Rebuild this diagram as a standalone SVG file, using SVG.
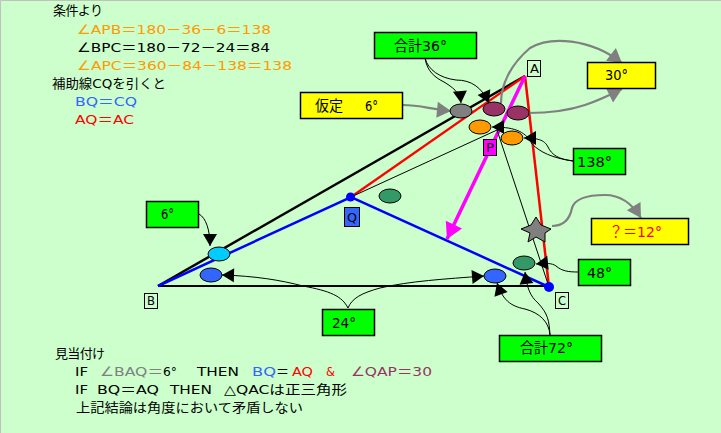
<svg xmlns="http://www.w3.org/2000/svg" width="721" height="433" viewBox="0 0 721 433">
<style>
text{font-family:"DejaVu Sans","Noto Sans CJK JP",sans-serif;font-size:13px;fill:#000}
.big{font-size:14.500px}
.o{fill:#FF9900}.b{fill:#3366FF}.r{fill:#FF0000}.g{fill:#808080}.p{fill:#993366}
.box{stroke:#000;stroke-width:1.5}
.lbl{fill:#CCFFCC;stroke:#000;stroke-width:1}
.el{stroke:#000;stroke-width:1}
.thin{fill:none;stroke:#000;stroke-width:1}
.gray{fill:none;stroke:#808080;stroke-width:2.2}
.y{fill:#FFFF00}.gn{fill:#00FF00}
</style>
<defs>
<marker id="ak" markerUnits="userSpaceOnUse" markerWidth="16" markerHeight="16" refX="12" refY="7" overflow="visible" orient="auto"><path d="M0 0L12 7L0 14Z" fill="#000"/></marker>
<marker id="ag" markerUnits="userSpaceOnUse" markerWidth="18" markerHeight="18" refX="14" refY="8" overflow="visible" orient="auto"><path d="M0 0L14 8L0 16Z" fill="#808080"/></marker>
<marker id="am" markerUnits="userSpaceOnUse" markerWidth="22" markerHeight="22" refX="16" refY="9" overflow="visible" orient="auto"><path d="M0 0L16 9L0 18Z" fill="#FF00FF"/></marker>
</defs>
<rect width="721" height="433" fill="#CCFFCC"/>
<path d="M0.5 433V0.5H721" fill="none" stroke="#C0C0C0"/>

<g id="connectors">
<path d="M158 286L525 76" fill="none" stroke="#000" stroke-width="2.5"/>
<path d="M158 286H549" fill="none" stroke="#000" stroke-width="2"/>
<path d="M351 197L525 76" fill="none" stroke="#FF0000" stroke-width="2.3"/>
<path d="M525 76L549 287" fill="none" stroke="#FF0000" stroke-width="2.5"/>
<path d="M158 286L351 197L549 287" fill="none" stroke="#0000FF" stroke-width="2.5"/>
<path d="M525 76L447 239" fill="none" stroke="#FF00FF" stroke-width="3.500" marker-end="url(#am)"/>
<path class="thin" d="M351 197L497 130L549 287"/>
<path class="thin" d="M425 58C427 72 436 78 444 82C452 87 460 92 461 103" marker-end="url(#ak)"/>
<path class="thin" d="M425 58C428 70 440 78 456 80C472 80 482 88 489 103" marker-end="url(#ak)"/>
<path class="thin" d="M199 214C206 218 210 230 210 246" marker-end="url(#ak)"/>
<path class="thin" d="M348 308C342 296 330 291 303 286C280 280 255 276 222 275" marker-end="url(#ak)"/>
<path class="thin" d="M348 308C352 298 362 293 380 288C410 281 445 279 484 276" marker-end="url(#ak)"/>
<path class="thin" d="M550 335C549 320 548 314 538 303C530 296 527 288 525 272" marker-end="url(#ak)"/>
<path class="thin" d="M550 335C549 322 540 313 525 309C510 306 503 300 497 283" marker-end="url(#ak)"/>
<path class="thin" d="M578 272C568 272 562 271 556 266C552 263 546 263 536 264" marker-end="url(#ak)"/>
<path class="thin" d="M573 161C558 159 552 155 548 147C545 141 540 138 524 138" marker-end="url(#ak)"/>
<path class="thin" d="M573 161C552 158 540 152 532 144C525 130 512 127 492 127" marker-end="url(#ak)"/>
<path class="gray" d="M403 105C420 105 430 109 451 111" marker-end="url(#ag)"/>
<path class="gray" d="M501 103C501 85 510 65 530 48C550 36 590 38 622 63" marker-end="url(#ag)"/>
<path class="gray" d="M528 113C550 113 570 110 585 105C600 100 610 95 622 89" marker-end="url(#ag)"/>
<path class="gray" d="M552 226C565 226 570 218 572 208C575 198 590 195 605 195C622 195 633 205 641 218" marker-end="url(#ag)"/>
</g>

<g id="angle-marks">
<ellipse class="el" cx="461" cy="111" rx="11" ry="7" fill="#808080"/>
<ellipse class="el" cx="494" cy="109" rx="11" ry="7" fill="#993366"/>
<ellipse class="el" cx="518" cy="113" rx="11" ry="7" fill="#993366"/>
<ellipse class="el" cx="480" cy="127" rx="11" ry="7" fill="#FF9900"/>
<ellipse class="el" cx="512" cy="138" rx="11" ry="7" fill="#FF9900"/>
<ellipse class="el" cx="390" cy="196" rx="11" ry="7" fill="#339966"/>
<ellipse class="el" cx="219" cy="254" rx="11" ry="7" fill="#00CCFF"/>
<ellipse class="el" cx="211" cy="275" rx="11" ry="7" fill="#3366FF"/>
<ellipse class="el" cx="495" cy="276" rx="11" ry="7" fill="#3366FF"/>
<ellipse class="el" cx="524" cy="263" rx="11" ry="7" fill="#339966"/>
</g>

<g id="star"><path d="M536 217L541 225L551 229L545 233L545 242L536 237L528 242L530 233L521 229L531 225Z" fill="#808080" stroke="#000"/></g>

<g id="point-Q"><circle cx="350.500" cy="197" r="4.500" fill="#0000FF"/><rect x="344.500" y="207.500" width="15" height="19" fill="#3366FF" stroke="#000"/><text x="347" y="222" textLength="10" lengthAdjust="spacingAndGlyphs">Q</text></g>
<g id="point-C"><circle cx="549" cy="287" r="5" fill="#0000FF"/><rect class="lbl" x="555.500" y="292.500" width="13" height="16"/><text x="558" y="305" textLength="8" lengthAdjust="spacingAndGlyphs">C</text></g>
<g id="point-A"><rect class="lbl" x="527.500" y="60.500" width="13" height="16"/><text x="530" y="73" textLength="9" lengthAdjust="spacingAndGlyphs">A</text></g>
<g id="point-B"><rect class="lbl" x="144.500" y="293.500" width="13" height="15"/><text x="147" y="305" textLength="8" lengthAdjust="spacingAndGlyphs">B</text></g>
<g id="point-P"><rect x="483.500" y="139.500" width="13" height="16" fill="#FF00FF" stroke="#000"/><text x="486" y="152" textLength="8" lengthAdjust="spacingAndGlyphs">P</text></g>

<g id="box-sum36"><rect class="box gn" x="374.500" y="32.500" width="102" height="26"/><text class="big" x="394" y="51" textLength="53" lengthAdjust="spacingAndGlyphs">合計36°</text></g>
<g id="box-assume6"><rect class="box y" x="300.500" y="92.500" width="102" height="26"/><text class="big" x="315" y="111" textLength="28" lengthAdjust="spacingAndGlyphs">仮定</text><text class="big" x="365" y="111" textLength="13" lengthAdjust="spacingAndGlyphs">6°</text></g>
<g id="box-30"><rect class="box y" x="587.500" y="62.500" width="68" height="26"/><text class="big" x="605" y="80" textLength="23" lengthAdjust="spacingAndGlyphs">30°</text></g>
<g id="box-138"><rect class="box gn" x="573.500" y="148.500" width="52" height="26"/><text class="big" x="577" y="167" textLength="35" lengthAdjust="spacingAndGlyphs">138°</text></g>
<g id="box-6"><rect class="box gn" x="146.500" y="201.500" width="52" height="26"/><text class="big" x="161" y="219" textLength="13" lengthAdjust="spacingAndGlyphs">6°</text></g>
<g id="box-24"><rect class="box gn" x="322.500" y="309.500" width="52" height="26"/><text class="big" x="332" y="328" textLength="24" lengthAdjust="spacingAndGlyphs">24°</text></g>
<g id="box-12"><rect class="box y" x="591.500" y="218.500" width="97" height="26"/><text class="big r" x="609" y="237" textLength="53" lengthAdjust="spacingAndGlyphs">？＝12°</text></g>
<g id="box-48"><rect class="box gn" x="578.500" y="259.500" width="52" height="26"/><text class="big" x="587" y="278" textLength="25" lengthAdjust="spacingAndGlyphs">48°</text></g>
<g id="box-sum72"><rect class="box gn" x="499.500" y="335.500" width="102" height="26"/><text class="big" x="520" y="353" textLength="53" lengthAdjust="spacingAndGlyphs">合計72°</text></g>

<g id="notes-top">
<text x="53" y="15" textLength="50">条件より</text>
<text class="o" x="77" y="34" textLength="194" lengthAdjust="spacingAndGlyphs">∠APB＝180－36－6＝138</text>
<text x="77" y="52" textLength="193" lengthAdjust="spacingAndGlyphs">∠BPC＝180－72－24＝84</text>
<text class="o" x="77" y="70" textLength="215" lengthAdjust="spacingAndGlyphs">∠APC＝360－84－138＝138</text>
<text x="52" y="88" textLength="114" lengthAdjust="spacingAndGlyphs">補助線CQを引くと</text>
<text class="b" x="75" y="106" textLength="62" lengthAdjust="spacingAndGlyphs">BQ＝CQ</text>
<text class="r" x="75" y="124" textLength="59" lengthAdjust="spacingAndGlyphs">AQ＝AC</text>
</g>
<g id="notes-bottom">
<text x="55" y="358" textLength="50">見当付け</text>
<text x="75" y="376" textLength="13" lengthAdjust="spacingAndGlyphs">IF</text>
<text class="g" x="100" y="376" textLength="63" lengthAdjust="spacingAndGlyphs">∠BAQ＝</text><text x="163" y="376" textLength="14" lengthAdjust="spacingAndGlyphs">6°</text>
<text x="197" y="376" textLength="42" lengthAdjust="spacingAndGlyphs">THEN</text>
<text class="b" x="252" y="376" textLength="24" lengthAdjust="spacingAndGlyphs">BQ</text><text x="276" y="376" textLength="14">＝</text>
<text class="r" x="292" y="376" textLength="21" lengthAdjust="spacingAndGlyphs">AQ</text>
<text class="r" x="326" y="376" textLength="9" lengthAdjust="spacingAndGlyphs">&amp;</text>
<text class="p" x="351" y="376" textLength="81" lengthAdjust="spacingAndGlyphs">∠QAP＝30</text>
<text x="75" y="394" textLength="13" lengthAdjust="spacingAndGlyphs">IF</text>
<text x="97" y="394" textLength="62" lengthAdjust="spacingAndGlyphs">BQ＝AQ</text>
<text x="170" y="394" textLength="42" lengthAdjust="spacingAndGlyphs">THEN</text>
<text x="224" y="394" textLength="123" lengthAdjust="spacingAndGlyphs">△QACは正三角形</text>
<text x="76" y="412" textLength="227" lengthAdjust="spacingAndGlyphs">上記結論は角度において矛盾しない</text>
</g>
</svg>
